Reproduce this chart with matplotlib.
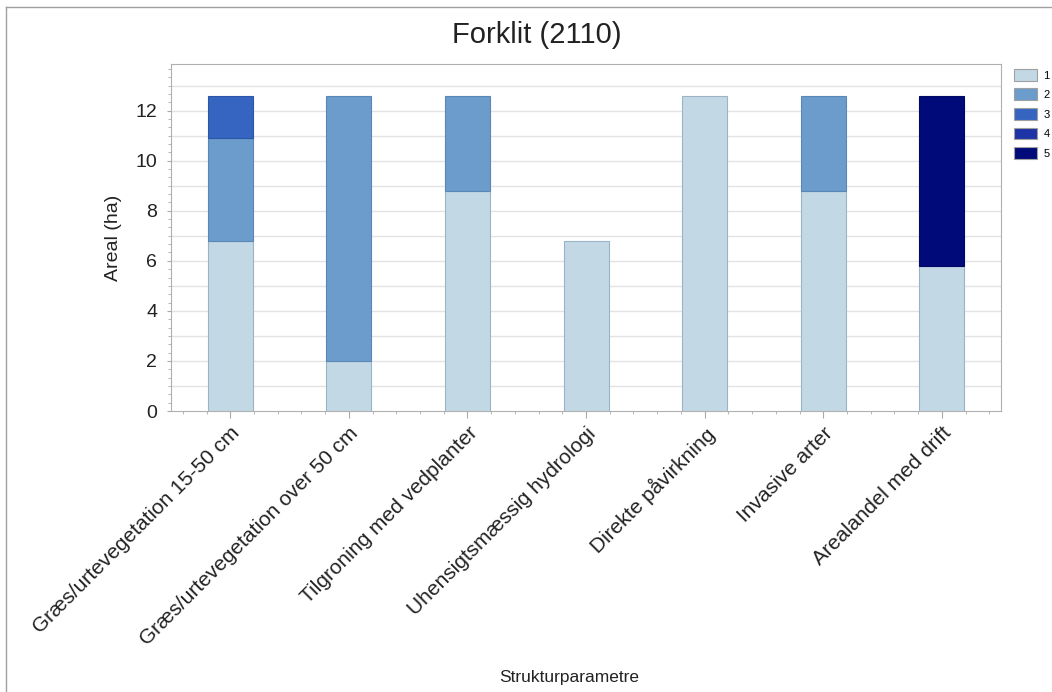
import matplotlib
matplotlib.use("Agg")
import matplotlib.pyplot as plt
import numpy as np
from matplotlib.ticker import MultipleLocator
from matplotlib.patches import Patch

plt.rcParams['font.family'] = ['Liberation Sans', 'DejaVu Sans']

categories = ["Græs/urtevegetation 15-50 cm", "Græs/urtevegetation over 50 cm",
              "Tilgroning med vedplanter", "Uhensigtsmæssig hydrologi",
              "Direkte påvirkning", "Invasive arter", "Arealandel med drift"]
series_names = ["1", "2", "3", "4", "5"]
s1 = [6.8, 2.0, 8.8, 6.8, 12.6, 8.8, 5.8]
s2 = [4.1, 10.6, 3.8, 0, 0, 3.8, 0]
s3 = [1.7, 0, 0, 0, 0, 0, 0]
s4 = [0, 0, 0, 0, 0, 0, 0]
s5 = [0, 0, 0, 0, 0, 0, 6.8]

colors = ["#c3d8e5", "#6b9ccb", "#3565c0", "#1e33a6", "#000b79"]
edges = ["#9ab4c6", "#5a87b8", "#2c55a8", "#182b90", "#000866"]

fig = plt.figure(figsize=(10.52, 6.92), dpi=100)
ax = fig.add_axes([0.1626, 0.406, 0.789, 0.5015])

x = np.arange(len(categories))
bottom = np.zeros(len(categories))
for name, vals, c, ec in zip(series_names, [s1, s2, s3, s4, s5], colors, edges):
    vals = np.array(vals, dtype=float)
    bars = ax.bar(x, vals, 0.38, bottom=bottom, color=c, edgecolor=ec, linewidth=0.8,
                  zorder=3)
    # zero-height segments should not leave an edge line
    for patch, v in zip(bars.patches, vals):
        if v == 0:
            patch.set_visible(False)
    bottom += vals

ax.set_xlim(-0.5, 6.5)
ax.set_ylim(0, 13.86)
ax.set_yticks(np.arange(0, 13, 2))
ax.yaxis.set_minor_locator(MultipleLocator(1 / 3))
ax.set_xticks(x)
ax.xaxis.set_minor_locator(MultipleLocator(0.2))
ax.set_xticklabels(categories, rotation=45, ha='right', va='top',
                   rotation_mode='anchor', fontsize=15, color='#222222')
ax.tick_params(axis='y', labelsize=14, length=3, color='#aaaaaa', labelcolor='#222222', pad=7)
ax.tick_params(axis='y', which='minor', length=2.5, color='#aaaaaa')
ax.tick_params(axis='x', length=5, color='#aaaaaa', pad=4)
ax.tick_params(axis='x', which='minor', length=2.5, color='#aaaaaa')

for yv in np.arange(1, 14):
    ax.axhline(yv, color='#e3e3e3', linewidth=1, zorder=1)

for s in ax.spines.values():
    s.set_color('#b0b0b0')

ax.set_ylabel("Areal (ha)", fontsize=14, color='#222222')
ax.yaxis.set_label_coords(-0.059, 0.5)
ax.set_xlabel("Strukturparametre", fontsize=12.5, color='#222222')
ax.xaxis.set_label_coords(0.48, -0.745)
fig.text(537 / 1052, 1 - 35 / 692, "Forklit (2110)", fontsize=21, color='#222222',
         ha='center', va='center')

handles = [Patch(facecolor=c, edgecolor='#a0a0a0', linewidth=0.8) for c in colors]
leg = ax.legend(handles, series_names, loc='upper left', bbox_to_anchor=(1.008, 1.005),
                frameon=False, fontsize=8, handlelength=2.0, handleheight=1.25,
                labelspacing=0.7, borderaxespad=0.2, handletextpad=0.6)

fig.add_artist(plt.Line2D([0.006, 0.006], [0, 0.99], color='#a0a0a0', lw=1))
fig.add_artist(plt.Line2D([0.006, 1.0], [0.99, 0.99], color='#a0a0a0', lw=1))

fig.savefig("out.png", dpi=100)
